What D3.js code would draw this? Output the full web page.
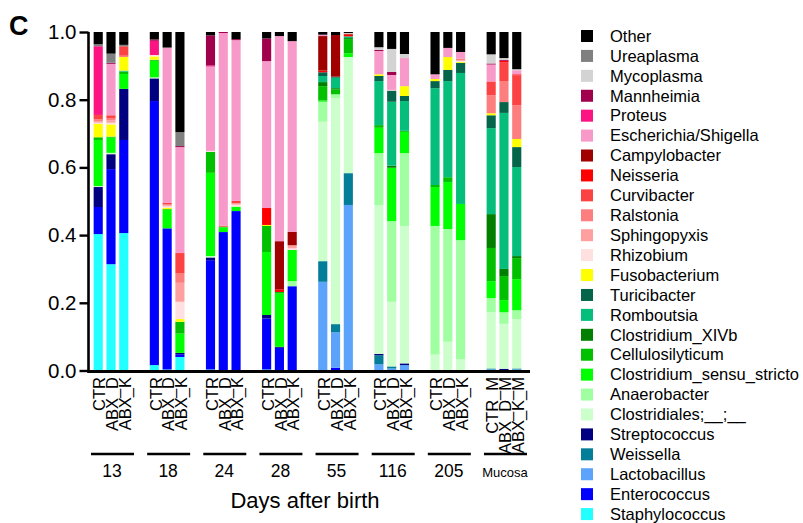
<!DOCTYPE html>
<html>
<head>
<meta charset="utf-8">
<script src="https://cdn.jsdelivr.net/npm/d3@7.9.0/dist/d3.min.js"></script>
<style>
  body { margin: 0; background: #fff; }
  svg { display: block; font-family: Arial, "Liberation Sans", sans-serif; }
</style>
</head>
<body>
<svg id="chart" width="803" height="523"></svg>
<script>
// groups along the x axis, 3 bars each
const groups = ["13", "18", "24", "28", "55", "116", "205", "Mucosa"];
const faecesLabels = ["CTR", "ABX_D", "ABX_K"];
const mucosaLabels = ["CTR_M", "ABX_D_M", "ABX_K_M"];

// legend order (top of stack first)
const genera = ["Other", "Ureaplasma", "Mycoplasma", "Mannheimia", "Proteus", "Escherichia/Shigella",
  "Campylobacter", "Neisseria", "Curvibacter", "Ralstonia", "Sphingopyxis", "Rhizobium", "Fusobacterium",
  "Turicibacter", "Romboutsia", "Clostridium_XIVb", "Cellulosilyticum", "Clostridium_sensu_stricto",
  "Anaerobacter", "Clostridiales;__;__", "Streptococcus", "Weissella", "Lactobacillus", "Enterococcus",
  "Staphylococcus"];
const generaColors = ["#000000", "#808080", "#d3d3d3", "#a0004c", "#fc1482", "#f799c9",
  "#a00000", "#ff0000", "#fc4343", "#fc7e7e", "#ffa0a0", "#ffe0e0", "#ffff00",
  "#05654a", "#06be7b", "#007f00", "#00c000", "#00ff00",
  "#a0ffa0", "#ccffcc", "#000080", "#047e98", "#5ba3fb", "#0000ff",
  "#22ffff"];

// relative abundance per genus, 24 bars: 13 CTR/D/K, 18 ..., 205 ..., Mucosa CTR/D/K
const Staphylococcus = [.403, .314, .406, .016, .003, .040, .003, 0, 0, .003, 0, 0, 0, 0, 0, 0, 0, 0, 0, 0, 0, 0, 0, 0];
const Enterococcus = [.080, .281, .275, .780, .417, .008, .323, .409, .471, .151, .067, .249, 0, .008, 0, 0, 0, 0, 0, 0, 0, 0, 0, 0];
const Lactobacillus = [0, 0, 0, 0, 0, 0, 0, 0, 0, 0, 0, 0, .262, .105, .489, .018, .006, .016, 0, 0, 0, .003, 0, .003];
const Weissella = [0, 0, 0, 0, 0, 0, 0, 0, 0, 0, 0, 0, .061, .024, .094, .027, .006, 0, 0, 0, 0, .003, 0, .003];
const Streptococcus = [.059, .044, .151, .067, 0, .004, .008, 0, 0, .010, .003, 0, 0, 0, 0, .004, 0, .005, 0, 0, 0, 0, .005, 0];
const Clostridiales = [.003, .004, 0, .003, 0, 0, .004, 0, 0, 0, 0, 0, .412, .667, .343, .440, .191, .406, .047, .085, .033, .166, .133, .146];
const Anaerobacter = [0, 0, 0, 0, 0, 0, 0, 0, 0, 0, 0, .015, .059, .012, 0, .153, .238, .215, .380, .333, .352, .042, .034, .026];
const ClostridiumSensuStricto = [.136, .045, .044, .049, .055, .057, .246, .014, .013, .186, .157, .092, .004, 0, .011, .075, .158, .063, .115, .139, .107, .050, .036, .092];
const Cellulosilyticum = [.008, .003, .007, .003, .002, .035, .062, .002, 0, .077, .005, 0, .042, .015, .042, .008, 0, .003, .006, .014, 0, .098, .071, .062];
const ClostridiumXIVb = [0, 0, 0, 0, 0, 0, 0, 0, 0, 0, 0, 0, .012, .003, .003, 0, .006, 0, 0, 0, 0, .100, .021, .006];
const Romboutsia = [0, 0, .003, 0, 0, 0, 0, 0, 0, 0, 0, 0, .018, .031, .005, .130, .189, .088, .286, .284, .387, .254, .461, .263];
const Turicibacter = [0, 0, 0, 0, 0, 0, 0, 0, 0, 0, 0, 0, .011, .003, 0, .015, .033, .015, .021, .033, .030, .038, .032, .059];
const Fusobacterium = [.040, .036, .040, .010, .004, .008, 0, 0, 0, .003, 0, 0, 0, 0, 0, .005, 0, .029, .006, .038, .003, .006, 0, .024];
const Rhizobium = [.003, .005, 0, .004, .004, .051, .003, 0, .006, 0, 0, .005, 0, 0, 0, 0, .002, 0, 0, 0, .003, 0, 0, 0];
const Sphingopyxis = [.004, .007, 0, 0, .003, .056, 0, 0, .004, 0, 0, .009, 0, 0, 0, 0, 0, 0, 0, 0, .002, 0, 0, 0];
const Ralstonia = [.006, .007, .004, 0, .003, .029, 0, 0, 0, 0, 0, 0, 0, 0, 0, 0, 0, 0, 0, 0, .004, .053, .062, .100];
const Curvibacter = [.013, .008, .028, 0, .004, .059, 0, .003, .007, 0, 0, 0, 0, 0, 0, 0, 0, 0, 0, 0, 0, .041, .056, .088];
const Neisseria = [0, 0, 0, 0, 0, 0, 0, 0, 0, .050, .008, 0, .005, 0, .006, 0, 0, 0, 0, 0, 0, 0, .004, .003];
const Campylobacter = [0, 0, 0, 0, 0, 0, 0, 0, 0, 0, .142, .040, .102, .123, .002, 0, 0, 0, 0, 0, 0, 0, 0, 0];
const Escherichia = [0, .152, 0, 0, .459, .313, .249, .569, .475, .434, .606, .563, .004, 0, 0, .069, .044, .083, .014, .027, .020, .050, 0, .012];
const Proteus = [.203, 0, 0, .042, 0, 0, .003, 0, 0, 0, 0, 0, 0, 0, 0, 0, 0, 0, 0, 0, 0, 0, 0, 0];
const Mannheimia = [0, .003, 0, .004, 0, .003, .089, .003, .003, .067, 0, 0, 0, 0, 0, .003, .009, 0, 0, 0, 0, .003, .003, 0];
const Mycoplasma = [0, 0, 0, 0, 0, 0, 0, 0, 0, 0, 0, 0, 0, 0, .002, .008, .068, .012, 0, 0, 0, .027, .005, .003];
const Ureaplasma = [.006, .027, .004, 0, 0, .041, 0, 0, 0, 0, 0, 0, 0, 0, 0, 0, 0, 0, 0, 0, 0, 0, 0, 0];
const Other = [.036, .064, .038, .022, .046, .296, .010, 0, .021, .019, .012, .027, .008, .009, .003, .045, .050, .065, .125, .047, .059, .066, .077, .110];

const yTicks = [0, 0.2, 0.4, 0.6, 0.8, 1.0];

// genus name -> series (same order as legend)
const seriesByGenus = [Other, Ureaplasma, Mycoplasma, Mannheimia, Proteus, Escherichia,
  Campylobacter, Neisseria, Curvibacter, Ralstonia, Sphingopyxis, Rhizobium, Fusobacterium,
  Turicibacter, Romboutsia, ClostridiumXIVb, Cellulosilyticum, ClostridiumSensuStricto,
  Anaerobacter, Clostridiales, Streptococcus, Weissella, Lactobacillus, Enterococcus,
  Staphylococcus];

// build one row per bar for d3.stack
let bars = [];
groups.forEach((g, gi) => {
  let labels = g === "Mucosa" ? mucosaLabels : faecesLabels;
  labels.forEach((lab, li) => {
    let row = { group: g, idx: li, label: lab };
    genera.forEach((name, k) => { row[name] = seriesByGenus[k][gi * 3 + li]; });
    bars.push(row);
  });
});

const svg = d3.select("#chart");
const color = d3.scaleOrdinal().domain(genera).range(generaColors);

// scales
const y = d3.scaleLinear().domain([0, 1]).range([370.5, 32]);
const xGroup = d3.scaleBand().domain(groups).range([88, 537.1]);
const xBar = d3.scaleBand().domain([0, 1, 2]).range([2, 44]).padding(4 / 14);

// stack bottom -> top (reverse of legend)
const stackKeys = genera.slice().reverse();
const stacked = d3.stack().keys(stackKeys)(bars);

svg.append("g")
  .selectAll("g")
  .data(stacked)
  .join("g")
  .attr("fill", d => color(d.key))
  .selectAll("rect")
  .data(d => d)
  .join("rect")
  .attr("x", d => xGroup(d.data.group) + xBar(d.data.idx))
  .attr("width", xBar.bandwidth())
  .attr("y", d => y(d[1]))
  .attr("height", d => Math.max(0, y(d[0]) - y(d[1])));

// y axis
const yAxis = svg.append("g")
  .attr("transform", "translate(88.5,0)")
  .call(d3.axisLeft(y).tickValues(yTicks).tickFormat(d3.format(".1f")).tickSize(9).tickPadding(3));
yAxis.select(".domain").attr("stroke-width", 2.6).attr("d", `M0,${y(1)}V${y(0) + 1}`);
yAxis.selectAll(".tick line").attr("stroke-width", 2.4);
yAxis.selectAll(".tick text").attr("font-size", 20.5).attr("fill", "#000")
  .attr("font-family", "Arial, 'Liberation Sans', sans-serif");

// x baseline
svg.append("line")
  .attr("x1", 87.2).attr("x2", 530)
  .attr("y1", 371.5).attr("y2", 371.5)
  .attr("stroke", "#000").attr("stroke-width", 2.8);

// rotated bar labels
svg.append("g")
  .selectAll("text")
  .data(bars)
  .join("text")
  .attr("transform", d => `translate(${xGroup(d.group) + xBar(d.idx) + xBar.bandwidth() / 2 + 1.5},377) rotate(-90)`)
  .attr("text-anchor", "end")
  .attr("dy", "0.35em")
  .attr("font-size", 16.5)
  .text(d => d.label);

// group underlines + day labels
groups.forEach(g => {
  let x0 = xGroup(g);
  svg.append("line")
    .attr("x1", x0 + 3).attr("x2", x0 + 46)
    .attr("y1", 454).attr("y2", 454)
    .attr("stroke", "#000").attr("stroke-width", 2.4);
  svg.append("text")
    .attr("x", x0 + 24).attr("y", 476.5)
    .attr("text-anchor", "middle")
    .attr("font-size", g === "Mucosa" ? 13 : 17.5)
    .text(g);
});

svg.append("text")
  .attr("x", 305).attr("y", 508)
  .attr("text-anchor", "middle")
  .attr("font-size", 22)
  .text("Days after birth");

// panel letter
svg.append("text")
  .attr("x", 9).attr("y", 35)
  .attr("font-size", 27).attr("font-weight", "bold")
  .text("C");

// legend
const legend = svg.append("g");
genera.forEach((name, i) => {
  let yy = 36 + i * 19.92;
  legend.append("rect")
    .attr("x", 581).attr("y", yy - 6).attr("width", 12).attr("height", 12)
    .attr("fill", color(name));
  legend.append("text")
    .attr("x", 610).attr("y", yy)
    .attr("dy", "0.35em")
    .attr("font-size", 16.5)
    .text(name);
});
</script>
</body>
</html>
